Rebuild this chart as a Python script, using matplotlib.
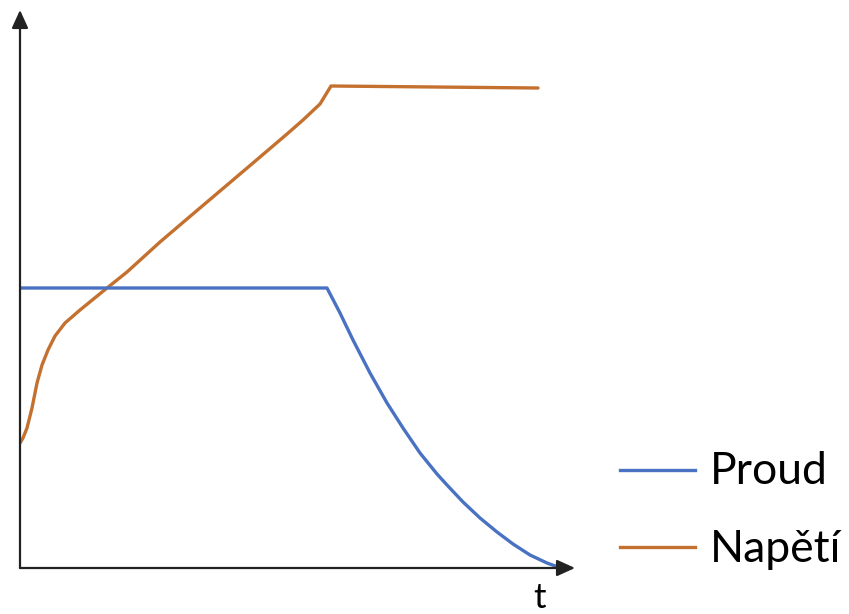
import matplotlib
matplotlib.use("Agg")
import matplotlib.pyplot as plt
from matplotlib.lines import Line2D

# Data (arbitrary units; origin at the axis crossing)
proud_t = [0, 307, 320, 333, 350, 367, 383, 400, 417, 427, 443, 460, 477, 493, 510, 527, 538]
proud_v = [280, 280, 255, 228, 195, 165, 140, 115, 94, 83, 66, 50, 36, 24, 13, 5, 1]

napeti_t = [0, 3, 7, 12, 17, 22, 28, 35, 45, 60, 87, 107, 140, 167, 200, 233, 267, 283, 300, 311, 518]
napeti_v = [125, 130, 140, 160, 185, 203, 218, 232, 245, 258, 280, 296, 326, 349, 377, 405, 434, 448, 464, 482, 480]

labels = ["Proud", "Napětí"]
colors = ["#4A72C2", "#C4702F"]

fig = plt.figure(figsize=(8.49, 6.14), dpi=100)
W, H = 849, 614
ox, oy = 20, 568
ax = fig.add_axes([ox / W, (H - oy) / H, (575 - ox) / W, (oy - 10) / H])
ax.set_xlim(0, 555)
ax.set_ylim(0, 558)
ax.axis("off")

ax.plot(napeti_t, napeti_v, color=colors[1], lw=2.4, solid_joinstyle="round",
        solid_capstyle="round", zorder=3)
ax.plot(proud_t, proud_v, color=colors[0], lw=2.4, solid_joinstyle="round",
        solid_capstyle="round", zorder=3)

arrow = dict(arrowstyle="-|>,head_length=1.1,head_width=0.5", color="#222222", lw=1.6,
             shrinkA=0, shrinkB=0)
ax.annotate("", xy=(555, 0), xytext=(0, 0), arrowprops=arrow, annotation_clip=False)
ax.annotate("", xy=(0, 558), xytext=(0, 0), arrowprops=arrow, annotation_clip=False)

fig.text(540 / W, 1 - 598 / H, "t", fontsize=25, family="Lato", ha="center", va="center")

# legend drawn manually
leg_y = [470, 547]
for lab, col, yy in zip(labels, colors, leg_y):
    fig.add_artist(Line2D([620 / W, 695 / W], [1 - yy / H, 1 - yy / H], color=col, lw=2.4,
                          transform=fig.transFigure))
    fig.text(710 / W, 1 - (yy + 2) / H, lab, fontsize=32, family="Lato",
             ha="left", va="center")

fig.savefig("out.png", dpi=100)
